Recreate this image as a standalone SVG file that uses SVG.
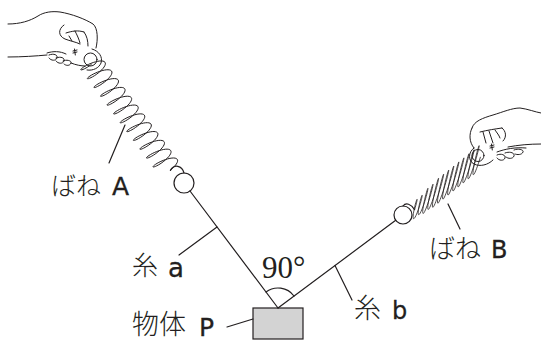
<svg xmlns="http://www.w3.org/2000/svg" width="541" height="342" viewBox="0 0 541 342">
<style>
.ln{fill:none;stroke:#231f20;stroke-width:1.2;stroke-linecap:round;stroke-linejoin:round}
.hd{fill:none;stroke:#231f20;stroke-width:1;stroke-linecap:round;stroke-linejoin:round}
.coil{fill:none;stroke:#231f20;stroke-width:1;vector-effect:non-scaling-stroke;stroke-linejoin:round}
.coilb{fill:none;stroke:#231f20;stroke-width:0.8;vector-effect:non-scaling-stroke;stroke-linejoin:round}
.jp{font-family:"Noto Sans CJK JP","Noto Sans",sans-serif;font-weight:300;fill:#231f20}
.lt{font-family:"DejaVu Sans","Liberation Sans",sans-serif;fill:#231f20;stroke:#231f20;stroke-width:0.3}
.num{font-family:"Liberation Serif","Times New Roman",serif;fill:#231f20}
</style>
<rect width="541" height="342" fill="#ffffff"/>

<g id="hand-a" class="hd">
<path d="M8,24 C20,24 30,21 38,16 C44,12 52,11 60,12 C72,14 85,19 93,24 C98,28 98,40 96,48"/>
<path d="M64,25 C58,29 58,36 65,39 C70,41 76,42 80,44"/>
<path d="M66,33 C72,31 78,30 84,32 M75,31 C77,35 79,39 80,43 M84,32 C87,36 88,41 88,46 M69,36 L72,41"/>
<path d="M73,51 l4,-1 M73,53 l4,-1 M74.5,49 l0.8,6"/>
<path d="M8,57 C22,57 36,56 47,55"/>
<path d="M47,53 C53,51 60,51 66,54"/>
<path d="M49,55 C54,53 58,55 57,58 C56,61 51,61 49,58"/>
<path d="M56,58 C61,56 65,58 64,61 C63,64 58,64 56,61"/>
<path d="M63,61 C67,59 72,61 71,63 C70,66 66,66 64,64"/>
<path d="M71,63 C76,65 81,66 85,66"/>
<circle cx="90.5" cy="59.5" r="6.5"/>
<path d="M92,49 C99,51 103,57 101,63 C99,68 93,71 87,70"/>
</g>

<g id="spring-a">
<path class="coil" transform="matrix(0.597,0.802,-0.87,0.5,89.6,61.6)" d="M3.3,0
c0.96,6.6 0.3,12 -0.55,12 c-0.85,0 -1.51,-5.4 -0.55,-12 c0.96,-6.6 3.27,-12 6.05,-12 c2.78,0 5.09,5.4 6.05,12
c0.96,6.6 0.3,12 -0.55,12 c-0.85,0 -1.51,-5.4 -0.55,-12 c0.96,-6.6 3.27,-12 6.05,-12 c2.78,0 5.09,5.4 6.05,12
c0.96,6.6 0.3,12 -0.55,12 c-0.85,0 -1.51,-5.4 -0.55,-12 c0.96,-6.6 3.27,-12 6.05,-12 c2.78,0 5.09,5.4 6.05,12
c0.96,6.6 0.3,12 -0.55,12 c-0.85,0 -1.51,-5.4 -0.55,-12 c0.96,-6.6 3.27,-12 6.05,-12 c2.78,0 5.09,5.4 6.05,12
c0.96,6.6 0.3,12 -0.55,12 c-0.85,0 -1.51,-5.4 -0.55,-12 c0.96,-6.6 3.27,-12 6.05,-12 c2.78,0 5.09,5.4 6.05,12
c0.96,6.6 0.3,12 -0.55,12 c-0.85,0 -1.51,-5.4 -0.55,-12 c0.96,-6.6 3.27,-12 6.05,-12 c2.78,0 5.09,5.4 6.05,12
c0.96,6.6 0.3,12 -0.55,12 c-0.85,0 -1.51,-5.4 -0.55,-12 c0.96,-6.6 3.27,-12 6.05,-12 c2.78,0 5.09,5.4 6.05,12
c0.96,6.6 0.3,12 -0.55,12 c-0.85,0 -1.51,-5.4 -0.55,-12 c0.96,-6.6 3.27,-12 6.05,-12 c2.78,0 5.09,5.4 6.05,12
c0.96,6.6 0.3,12 -0.55,12 c-0.85,0 -1.51,-5.4 -0.55,-12 c0.96,-6.6 3.27,-12 6.05,-12 c2.78,0 5.09,5.4 6.05,12
c0.96,6.6 0.3,12 -0.55,12 c-0.85,0 -1.51,-5.4 -0.55,-12 c0.96,-6.6 3.27,-12 6.05,-12 c2.78,0 5.09,5.4 6.05,12
c0.96,6.6 0.3,12 -0.55,12 c-0.85,0 -1.51,-5.4 -0.55,-12 c0.96,-6.6 3.27,-12 6.05,-12 c2.78,0 5.09,5.4 6.05,12
c0.96,6.6 0.3,12 -0.55,12 c-0.85,0 -1.51,-5.4 -0.55,-12 c0.96,-6.6 3.27,-12 6.05,-12 c2.78,0 5.09,5.4 6.05,12"/>
<path class="ln" d="M170.4,170.4 C174,164 182,165 184,173"/>
<circle class="ln" cx="184" cy="183" r="10"/>
</g>

<g id="hand-b" class="hd">
<path d="M472,128 C474,121 483,118 493,115 C503,112 512,108 520,108 C528,109 535,112 541,113"/>
<path d="M472,128 C469,134 469,142 474,148"/>
<path d="M480,132 C488,130 495,129 502,128 M483,132 L486,143 M489,131 L493,143 M495,130 C497,133 499,135 500,138"/>
<path d="M502,128 C506,131 507,137 503,141"/>
<path d="M490,146 l4,-1 M490,148 l4,-1 M491.5,144 l0.8,6"/>
<path d="M508,147 C518,145 530,144 541,144"/>
<path d="M497,152 C505,149 515,147 526,148"/>
<path d="M497,155 C501,153 506,155 505,158 C504,161 499,161 497,158"/>
<path d="M505,153 C510,151 515,153 514,156 C513,159 508,159 506,157"/>
<path d="M514,150 C519,148 524,150 523,152 C522,155 517,155 515,154"/>
<circle cx="478" cy="155.5" r="6"/>
<path d="M474,148 C468,152 468,161 474,164 C480,167 488,165 493,160"/>
</g>

<g id="spring-b">
<path class="coilb" transform="matrix(0.78,-0.626,0.25,-0.968,413,211)" d="M2,0
c0.57,6.05 0.16,11 -0.38,11 c-0.53,0 -0.94,-4.95 -0.37,-11 c0.57,-6.05 1.96,-11 3.63,-11 c1.67,0 3.06,4.95 3.62,11
c0.57,6.05 0.16,11 -0.38,11 c-0.53,0 -0.94,-4.95 -0.37,-11 c0.57,-6.05 1.96,-11 3.63,-11 c1.67,0 3.06,4.95 3.62,11
c0.57,7.7 0.16,14 -0.38,14 c-0.53,0 -0.94,-6.3 -0.37,-14 c0.57,-7.7 1.96,-14 3.63,-14 c1.67,0 3.06,6.3 3.62,14
c0.57,7.7 0.16,14 -0.38,14 c-0.53,0 -0.94,-6.3 -0.37,-14 c0.57,-7.7 1.96,-14 3.63,-14 c1.67,0 3.06,6.3 3.62,14
c0.57,8.8 0.16,16 -0.38,16 c-0.53,0 -0.94,-7.2 -0.37,-16 c0.57,-8.8 1.96,-16 3.63,-16 c1.67,0 3.06,7.2 3.62,16
c0.57,8.8 0.16,16 -0.38,16 c-0.53,0 -0.94,-7.2 -0.37,-16 c0.57,-8.8 1.96,-16 3.63,-16 c1.67,0 3.06,7.2 3.62,16
c0.57,8.8 0.16,16 -0.38,16 c-0.53,0 -0.94,-7.2 -0.37,-16 c0.57,-8.8 1.96,-16 3.63,-16 c1.67,0 3.06,7.2 3.62,16
c0.57,8.8 0.16,16 -0.38,16 c-0.53,0 -0.94,-7.2 -0.37,-16 c0.57,-8.8 1.96,-16 3.63,-16 c1.67,0 3.06,7.2 3.62,16
c0.57,8.8 0.16,16 -0.38,16 c-0.53,0 -0.94,-7.2 -0.37,-16 c0.57,-8.8 1.96,-16 3.63,-16 c1.67,0 3.06,7.2 3.62,16
c0.57,8.8 0.16,16 -0.38,16 c-0.53,0 -0.94,-7.2 -0.37,-16 c0.57,-8.8 1.96,-16 3.63,-16 c1.67,0 3.06,7.2 3.62,16
c0.57,8.8 0.16,16 -0.38,16 c-0.53,0 -0.94,-7.2 -0.37,-16 c0.57,-8.8 1.96,-16 3.63,-16 c1.67,0 3.06,7.2 3.62,16
c0.57,8.8 0.16,16 -0.38,16 c-0.53,0 -0.94,-7.2 -0.37,-16 c0.57,-8.8 1.96,-16 3.63,-16 c1.67,0 3.06,7.2 3.62,16
c0.57,8.8 0.16,16 -0.38,16 c-0.53,0 -0.94,-7.2 -0.37,-16 c0.57,-8.8 1.96,-16 3.63,-16 c1.67,0 3.06,7.2 3.62,16"/>
<path class="ln" d="M403,206 C406,202 411,204 414.6,209.7"/>
<circle class="ln" cx="403" cy="215" r="9"/>
</g>

<g id="object-p">
<rect x="253" y="308" width="50" height="31" fill="#d3d3d3" stroke="#231f20" stroke-width="1.2"/>
</g>

<g id="connectors" class="ln">
<path id="string-a" d="M190,191 L278,308"/>
<path id="string-b" d="M395.7,220.3 L278,308"/>
<path id="angle-arc" d="M266,292 A20,20 0 0 1 294,296"/>
<path d="M109,163 L125,125"/>
<path d="M448,204 L460,229"/>
<path d="M179,255 L217,227"/>
<path d="M335,265.5 L352,300"/>
<path d="M227,327 L253,319"/>
</g>

<g id="labels">
<text y="195"><tspan class="jp" x="51" font-size="25">ばね</tspan><tspan class="lt" x="112" font-size="25">A</tspan></text>
<text y="258"><tspan class="jp" x="429" font-size="26">ばね</tspan><tspan class="lt" x="491" font-size="24">B</tspan></text>
<text y="275"><tspan class="jp" x="132" font-size="26">糸</tspan><tspan class="lt" x="168" y="277" font-size="26">a</tspan></text>
<text y="318"><tspan class="jp" x="354" font-size="27">糸</tspan><tspan class="lt" x="392" y="319" font-size="24">b</tspan></text>
<text y="334"><tspan class="jp" x="132" font-size="27">物体</tspan><tspan class="lt" x="199" y="336" font-size="25">P</tspan></text>
<text class="num" x="262" y="278" font-size="31">90°</text>
</g>
</svg>
